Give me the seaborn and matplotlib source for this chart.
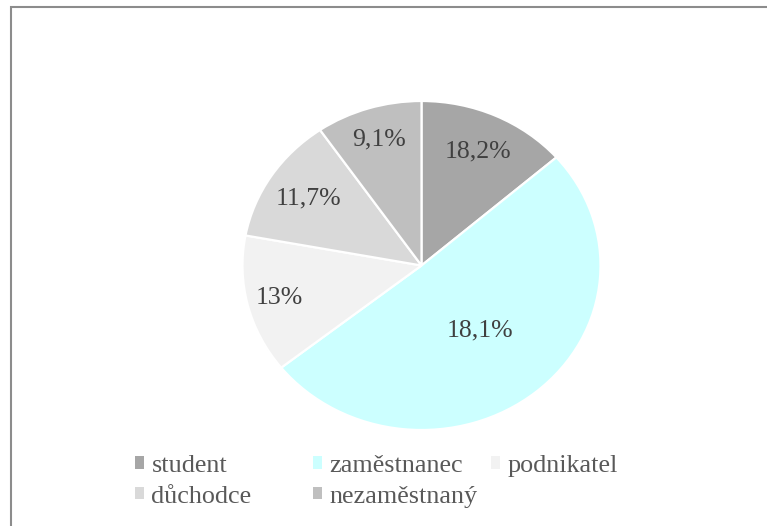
import matplotlib
matplotlib.use("Agg")
import matplotlib.pyplot as plt
import seaborn as sns
import numpy as np
from matplotlib.patches import Patch, Rectangle

categories = ["student", "zaměstnanec", "podnikatel", "důchodce", "nezaměstnaný"]
values = [13.6, 50.8, 13.6, 12.5, 9.6]
label_texts = ["18,2%", "18,1%", "13%", "11,7%", "9,1%"]
colors = ["#a6a6a6", "#ccffff", "#f2f2f2", "#d9d9d9", "#bfbfbf"]
label_r = [0.76, 0.51, 0.82, 0.75, 0.80]

sns.set_theme(style="white")
plt.rcParams["font.family"] = ["Liberation Serif", "DejaVu Serif"]

W, H = 767, 526
fig = plt.figure(figsize=(W / 100, H / 100), dpi=100)
fig.patch.set_facecolor("white")

# border (cropped frame)
fig.patches.append(Rectangle((11 / W, -0.1), 1.2, 1 - 7 / H + 0.1, transform=fig.transFigure,
                             fill=False, edgecolor="#8c8c8c", linewidth=1.5, zorder=0))

cx, cy, rx, ry = 421.5, 265.5, 179, 164.5
ax = fig.add_axes([(cx - rx) / W, (H - cy - ry) / H, 2 * rx / W, 2 * ry / H])
wedges, _ = ax.pie(values, colors=colors, startangle=90, counterclock=False,
                   wedgeprops=dict(edgecolor="white", linewidth=1.6))
ax.set_aspect("auto")
ax.set_xlim(-1, 1)
ax.set_ylim(-1, 1)
ax.axis("off")

for w, txt, r in zip(wedges, label_texts, label_r):
    mid = np.deg2rad((w.theta1 + w.theta2) / 2)
    ax.text(r * np.cos(mid), r * np.sin(mid), txt, ha="center", va="center",
            fontsize=18.5, color="#404040")

# legend: three equal-width columns
handles = [Patch(facecolor=c, edgecolor="none") for c in colors]
col_x = [135, 313, 491]
cols = [[0, 3], [1, 4], [2]]
for x, idx in zip(col_x, cols):
    fig.legend([handles[i] for i in idx], [categories[i] for i in idx],
               loc="upper left", bbox_to_anchor=(x / W, 1 - 455 / H),
               frameon=False, fontsize=18.8, handlelength=0.35, handleheight=0.35,
               handletextpad=0.28, labelspacing=0.33, borderpad=0, borderaxespad=0,
               labelcolor="#595959")

fig.savefig("out.png", dpi=100, facecolor="white")
